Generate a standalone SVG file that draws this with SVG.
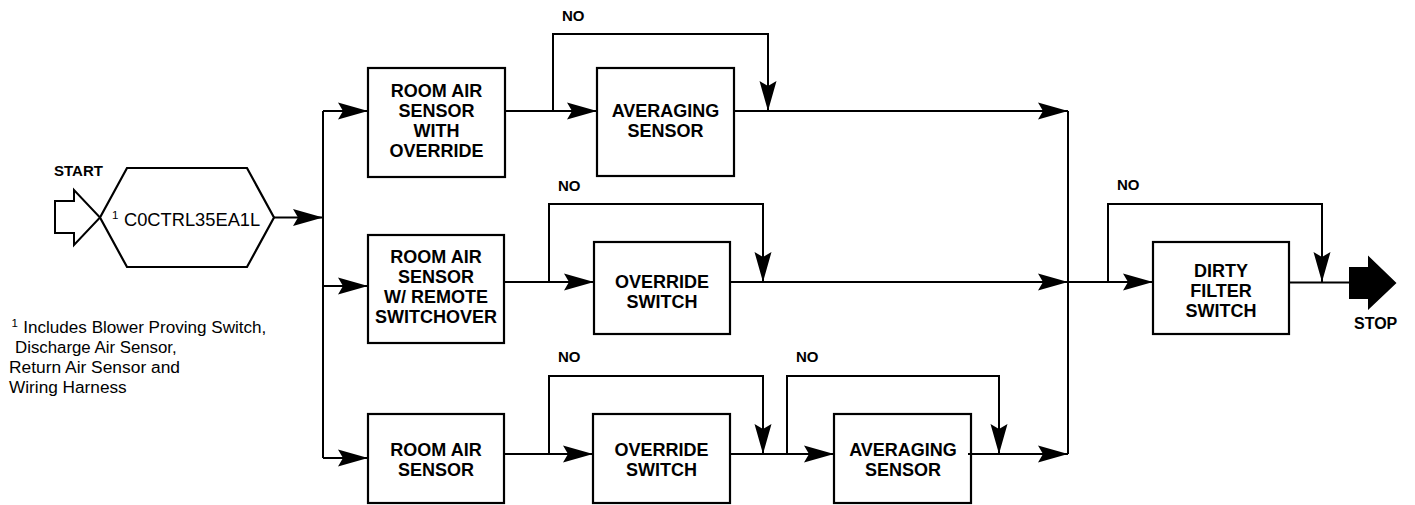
<svg xmlns="http://www.w3.org/2000/svg" width="1415" height="505" viewBox="0 0 1415 505">
<style>
.box{fill:#fff;stroke:#000;stroke-width:2.2}
.ln{fill:none;stroke:#000;stroke-width:2}
.arr{marker-end:url(#ah)}
.bt{font-family:"Liberation Sans",Arial,sans-serif;font-weight:bold;font-size:18px;text-anchor:middle;fill:#000}
.lbl{font-family:"Liberation Sans",Arial,sans-serif;font-weight:bold;font-size:15px;fill:#000}
.rt{font-family:"Liberation Sans",Arial,sans-serif;font-size:16px;fill:#000}
.ctl{font-family:"Liberation Sans",Arial,sans-serif;font-size:18.3px;fill:#000}
.stp{font-family:"Liberation Sans",Arial,sans-serif;font-weight:bold;font-size:16px;fill:#000}
.sup{font-family:"Liberation Sans",Arial,sans-serif;font-size:11.5px;fill:#000}
</style>
<defs>
<marker id="ah" markerUnits="userSpaceOnUse" markerWidth="32" markerHeight="20" refX="30" refY="10" orient="auto">
<path d="M0,1.5 L30,10 L0,18.5 L5,10 Z" fill="#000"/>
</marker>
</defs>

<g id="start">
<text class="lbl" x="54" y="176">START</text>
<polygon points="55,201 74,201 74,190 100,217.5 74,245 74,233 55,233" fill="#fff" stroke="#000" stroke-width="2"/>
</g>

<g id="controller">
<polygon class="box" points="100,217.5 127,168 247,168 274,217.5 247,267 127,267"/>
<text class="sup" x="112" y="219">1</text>
<text class="ctl" x="124" y="226">C0CTRL35EA1L</text>
</g>

<g id="box1">
<rect class="box" x="368" y="68" width="137" height="109"/>
<text class="bt" x="436.5" y="96.7">ROOM AIR</text>
<text class="bt" x="436.5" y="116.7">SENSOR</text>
<text class="bt" x="436.5" y="136.7">WITH</text>
<text class="bt" x="436.5" y="156.7">OVERRIDE</text>
</g>

<g id="box2">
<rect class="box" x="597" y="68" width="137" height="108"/>
<text class="bt" x="665.5" y="116.7">AVERAGING</text>
<text class="bt" x="665.5" y="136.7">SENSOR</text>
</g>

<g id="box3">
<rect class="box" x="368" y="235" width="136" height="108"/>
<text class="bt" x="436" y="263.3">ROOM AIR</text>
<text class="bt" x="436" y="283.3">SENSOR</text>
<text class="bt" x="436" y="303.3">W/ REMOTE</text>
<text class="bt" x="436" y="323.3">SWITCHOVER</text>
</g>

<g id="box4">
<rect class="box" x="594" y="242" width="136" height="92"/>
<text class="bt" x="662" y="287.7">OVERRIDE</text>
<text class="bt" x="662" y="307.5">SWITCH</text>
</g>

<g id="box5">
<rect class="box" x="368" y="414" width="136" height="89"/>
<text class="bt" x="436" y="456">ROOM AIR</text>
<text class="bt" x="436" y="476">SENSOR</text>
</g>

<g id="box6">
<rect class="box" x="593" y="414" width="137" height="89"/>
<text class="bt" x="661.5" y="456">OVERRIDE</text>
<text class="bt" x="661.5" y="476">SWITCH</text>
</g>

<g id="box7">
<rect class="box" x="834" y="414" width="137" height="89"/>
<text class="bt" x="903" y="456">AVERAGING</text>
<text class="bt" x="903" y="476">SENSOR</text>
</g>

<g id="box8">
<rect class="box" x="1153" y="242" width="136" height="92"/>
<text class="bt" x="1221" y="276.7">DIRTY</text>
<text class="bt" x="1221" y="296.7">FILTER</text>
<text class="bt" x="1221" y="316.7">SWITCH</text>
</g>

<g id="stop">
<polygon points="1349,267 1368,267 1368,255.5 1396.5,283 1368,310 1368,299 1349,299" fill="#000"/>
<text class="stp" x="1354" y="329.3">STOP</text>
</g>

<g id="connectors">
<path class="ln arr" d="M274,217.5 H323"/>
<path class="ln" d="M323,111 V458"/>
<path class="ln arr" d="M323,111 H368"/>
<path class="ln arr" d="M323,286 H368"/>
<path class="ln arr" d="M323,458 H368"/>

<path class="ln arr" d="M505,111 H597"/>
<path class="ln arr" d="M553,111 V34 H768 V111"/>
<path class="ln arr" d="M734,111 H1068"/>
<path class="ln" d="M1068,111 V454"/>

<path class="ln arr" d="M504,282 H594"/>
<path class="ln arr" d="M549,282 V204 H763 V282"/>
<path class="ln arr" d="M730,282 H1068"/>
<path class="ln arr" d="M1068,282 H1153"/>
<path class="ln arr" d="M1108,282 V204 H1322 V282"/>
<path class="ln" d="M1289,282.5 H1350"/>

<path class="ln arr" d="M504,454 H593"/>
<path class="ln arr" d="M549,454 V376 H763 V454"/>
<path class="ln arr" d="M730,454 H834"/>
<path class="ln arr" d="M787,454 V376 H999 V454"/>
<path class="ln arr" d="M968,454 H1068"/>
</g>

<g id="labels">
<text class="lbl" x="562" y="21">NO</text>
<text class="lbl" x="558" y="191">NO</text>
<text class="lbl" x="558" y="362">NO</text>
<text class="lbl" x="796" y="362">NO</text>
<text class="lbl" x="1117" y="189.5">NO</text>
</g>

<g id="footnote">
<text class="sup" x="11.5" y="326.5">1</text>
<text class="rt" x="23.3" y="332.7" textLength="243" lengthAdjust="spacingAndGlyphs">Includes Blower Proving Switch,</text>
<text class="rt" x="15" y="353" textLength="161.7" lengthAdjust="spacingAndGlyphs">Discharge Air Sensor,</text>
<text class="rt" x="9" y="373" textLength="171" lengthAdjust="spacingAndGlyphs">Return Air Sensor and</text>
<text class="rt" x="9" y="393" textLength="117.7" lengthAdjust="spacingAndGlyphs">Wiring Harness</text>
</g>
</svg>
